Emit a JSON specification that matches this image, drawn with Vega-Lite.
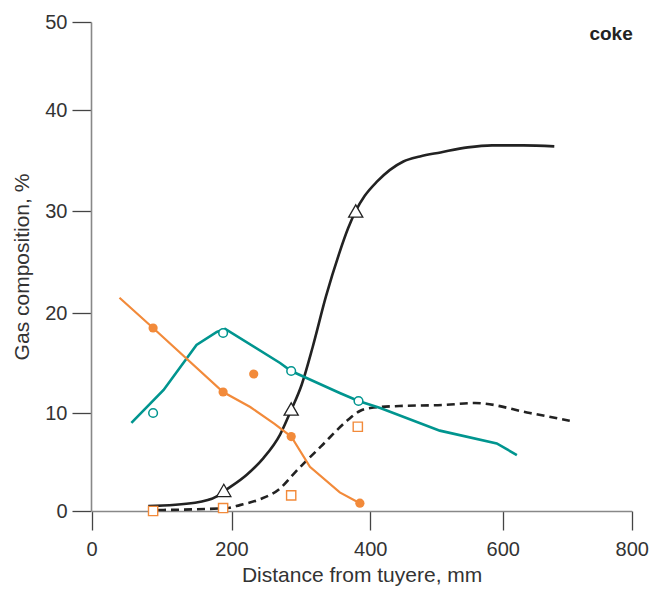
{
  "$schema": "https://vega.github.io/schema/vega-lite/v6.json",
  "width": 541,
  "height": 489,
  "autosize": {"type": "none"},
  "padding": {"left": 91, "top": 22, "right": 19, "bottom": 79},
  "config": {
    "view": {"stroke": null},
    "font": "Liberation Sans",
    "axis": {
      "grid": false,
      "labelFlush": false,
      "labelOverlap": false,
      "domainColor": "#888888",
      "domainWidth": 1.6,
      "tickColor": "#444444",
      "tickWidth": 1.3,
      "tickSize": 19,
      "labelFontSize": 20,
      "labelColor": "#333333",
      "labelFont": "Liberation Sans",
      "titleFontSize": 21,
      "titleFontWeight": "normal",
      "titleColor": "#333333",
      "titleFont": "Liberation Sans"
    }
  },
  "datasets": {
    "black": [
      {"x": 81, "y": 0.5}, {"x": 148, "y": 0.85}, {"x": 179, "y": 1.5}, {"x": 189, "y": 2.0},
      {"x": 222, "y": 3.7}, {"x": 246, "y": 5.4}, {"x": 270, "y": 7.8}, {"x": 286, "y": 10.3},
      {"x": 301, "y": 12.8}, {"x": 317, "y": 16.6}, {"x": 336, "y": 21.6}, {"x": 355, "y": 25.8},
      {"x": 368, "y": 28.3}, {"x": 379, "y": 30.0}, {"x": 392, "y": 31.5}, {"x": 410, "y": 32.9},
      {"x": 450, "y": 34.9}, {"x": 475, "y": 35.4}, {"x": 506, "y": 35.8}, {"x": 547, "y": 36.3},
      {"x": 584, "y": 36.5}, {"x": 632, "y": 36.5}, {"x": 680, "y": 36.4}
    ],
    "dashed": [
      {"x": 95, "y": 0.1}, {"x": 193, "y": 0.3}, {"x": 212, "y": 0.6}, {"x": 241, "y": 1.2},
      {"x": 270, "y": 2.3}, {"x": 291, "y": 3.9}, {"x": 329, "y": 6.6}, {"x": 368, "y": 9.3},
      {"x": 385, "y": 10.2}, {"x": 400, "y": 10.5}, {"x": 444, "y": 10.7}, {"x": 510, "y": 10.8},
      {"x": 558, "y": 11.0}, {"x": 642, "y": 10.0}, {"x": 704, "y": 9.2}
    ],
    "teal": [
      {"x": 57, "y": 9.0}, {"x": 103, "y": 12.3}, {"x": 150, "y": 16.8}, {"x": 179, "y": 18.1},
      {"x": 191, "y": 18.4}, {"x": 270, "y": 15.0}, {"x": 286, "y": 14.2}, {"x": 305, "y": 13.6},
      {"x": 356, "y": 12.0}, {"x": 383, "y": 11.2}, {"x": 415, "y": 10.5}, {"x": 505, "y": 8.2},
      {"x": 591, "y": 6.9}, {"x": 622, "y": 5.7}
    ],
    "orange": [
      {"x": 40, "y": 21.5}, {"x": 88, "y": 18.5}, {"x": 188, "y": 12.1}, {"x": 227, "y": 10.6},
      {"x": 262, "y": 8.9}, {"x": 286, "y": 7.6}, {"x": 313, "y": 4.5}, {"x": 356, "y": 1.9},
      {"x": 385, "y": 0.8}
    ],
    "orangeDots": [
      {"x": 88, "y": 18.5}, {"x": 188, "y": 12.1}, {"x": 232, "y": 13.9}, {"x": 286, "y": 7.6}, {"x": 385, "y": 0.8}
    ],
    "tealCircles": [
      {"x": 88, "y": 10.0}, {"x": 188, "y": 18.0}, {"x": 286, "y": 14.2}, {"x": 383, "y": 11.2}
    ],
    "triangles": [
      {"x": 189, "y": 2.1}, {"x": 286, "y": 10.4}, {"x": 379, "y": 30.0}
    ],
    "squares": [
      {"x": 88, "y": 0.0}, {"x": 188, "y": 0.3}, {"x": 286, "y": 1.6}, {"x": 382, "y": 8.6}
    ],
    "labels": [
      {"x": 800, "y": 48, "text": "coke"}
    ]
  },
  "encoding": {
    "x": {
      "field": "x",
      "type": "quantitative",
      "scale": {"domain": [0, 200, 400, 600, 800], "range": [0.5, 140.5, 279.3, 411.7, 540.7], "zero": false, "nice": false},
      "axis": {"values": [0, 200, 400, 600, 800], "title": "Distance from tuyere, mm", "labelPadding": 9, "titlePadding": 5}
    },
    "y": {
      "field": "y",
      "type": "quantitative",
      "scale": {"domain": [0, 10, 20, 30, 40, 50], "range": [489, 391, 291, 189, 88, 0], "zero": false, "nice": false},
      "axis": {"values": [0, 10, 20, 30, 40, 50], "title": "Gas composition, %", "labelPadding": 5, "titlePadding": 12}
    }
  },
  "layer": [
    {"data": {"name": "dashed"}, "mark": {"type": "line", "color": "#222222", "strokeWidth": 2.6, "strokeDash": [8, 5], "interpolate": "monotone"}},
    {"data": {"name": "black"}, "mark": {"type": "line", "color": "#222222", "strokeWidth": 2.6, "interpolate": "monotone"}},
    {"data": {"name": "teal"}, "mark": {"type": "line", "color": "#00958F", "strokeWidth": 2.6}},
    {"data": {"name": "orange"}, "mark": {"type": "line", "color": "#F28A3A", "strokeWidth": 2.2}},
    {"data": {"name": "squares"}, "mark": {"type": "point", "shape": "square", "size": 85, "fill": "white", "stroke": "#F28A3A", "strokeWidth": 1.4, "opacity": 1, "fillOpacity": 1}},
    {"data": {"name": "triangles"}, "mark": {"type": "point", "shape": "triangle-up", "size": 200, "fill": "white", "stroke": "#222222", "strokeWidth": 1.3, "opacity": 1, "fillOpacity": 1}},
    {"data": {"name": "tealCircles"}, "mark": {"type": "point", "shape": "circle", "size": 75, "fill": "white", "stroke": "#00958F", "strokeWidth": 1.5, "opacity": 1, "fillOpacity": 1}},
    {"data": {"name": "orangeDots"}, "mark": {"type": "point", "shape": "circle", "size": 85, "filled": true, "color": "#F28A3A", "opacity": 1}},
    {"data": {"name": "labels"}, "mark": {"type": "text", "align": "right", "baseline": "alphabetic", "fontSize": 19, "fontWeight": "bold", "color": "#222222", "dx": 1, "font": "Liberation Sans"}, "encoding": {"text": {"field": "text"}}}
  ]
}
